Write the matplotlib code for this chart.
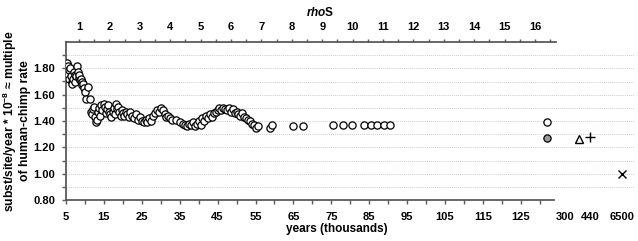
import numpy as np
import matplotlib
matplotlib.use("Agg")
import matplotlib.pyplot as plt
from matplotlib.ticker import FixedLocator
import matplotlib.transforms as mtransforms

plt.rcParams['font.family'] = ['Liberation Sans', 'DejaVu Sans']
plt.rcParams['mathtext.fontset'] = 'custom'
plt.rcParams['mathtext.rm'] = 'Liberation Sans:bold'
plt.rcParams['mathtext.it'] = 'Liberation Sans:bold:italic'
plt.rcParams['mathtext.bf'] = 'Liberation Sans:bold'

# ---- data (years in thousands, rate multiple) ----
years_a = [5.0, 5.2, 5.5, 5.7, 5.9, 6.1, 6.3, 6.5, 6.7, 6.9, 7.1, 7.3, 7.5, 7.7,
           7.9, 8.1, 8.3, 8.5, 8.7, 8.9, 9.1, 9.3, 9.5, 9.8, 10.1, 10.4, 10.7, 11.3]
rate_a = [1.76, 1.84, 1.82, 1.79, 1.72, 1.80, 1.74, 1.70, 1.68, 1.72, 1.77, 1.75, 1.70, 1.74,
          1.82, 1.77, 1.73, 1.75, 1.71, 1.72, 1.70, 1.67, 1.68, 1.65, 1.62, 1.57, 1.66, 1.57]

years_b = [11.6, 11.9, 12.2, 12.5, 12.7, 13.0, 13.2, 13.5, 13.8, 14.0, 14.3, 14.6, 14.9, 15.2,
           15.5, 15.8, 16.1, 16.4, 16.7, 17.0, 17.3, 17.6, 17.9, 18.2, 18.5, 18.8, 19.1, 19.4,
           19.7, 20.0, 20.3, 20.7]
rate_b = [1.47, 1.45, 1.49, 1.51, 1.43, 1.39, 1.41, 1.47, 1.50, 1.44, 1.52, 1.48, 1.53, 1.51,
          1.46, 1.49, 1.52, 1.47, 1.45, 1.43, 1.47, 1.50, 1.45, 1.53, 1.49, 1.51, 1.47, 1.44,
          1.48, 1.46, 1.44, 1.47]

years_c = [21.0, 21.5, 22.0, 22.5, 23.0, 23.5, 24.0, 24.5, 25.0, 25.5, 26.0, 26.5, 27.0, 27.5,
           28.0, 28.5, 29.0, 29.5, 30.0, 30.5, 31.0, 31.5, 32.0, 32.5, 33.0, 34.0, 35.0, 35.8,
           36.5, 37.0, 37.5, 38.0, 38.5, 39.0, 39.5, 40.0, 40.5, 41.0, 41.5, 42.0, 42.5]
rate_c = [1.45, 1.43, 1.47, 1.44, 1.42, 1.45, 1.41, 1.43, 1.40, 1.39, 1.41, 1.39, 1.42, 1.40,
          1.44, 1.46, 1.48, 1.47, 1.50, 1.48, 1.45, 1.43, 1.44, 1.42, 1.41, 1.41, 1.39, 1.38,
          1.37, 1.36, 1.38, 1.37, 1.39, 1.36, 1.38, 1.40, 1.37, 1.42, 1.40, 1.44, 1.42]

years_d = [43.0, 43.5, 44.0, 44.5, 45.0, 45.5, 46.0, 46.5, 47.0, 47.5, 48.0, 48.5, 49.0, 49.5,
           50.0, 50.5, 51.0, 51.5, 52.0, 52.5, 53.0, 53.5, 54.0, 54.5, 55.2]
rate_d = [1.45, 1.43, 1.46, 1.47, 1.48, 1.50, 1.48, 1.50, 1.49, 1.48, 1.50, 1.47, 1.49, 1.46,
          1.47, 1.45, 1.44, 1.46, 1.43, 1.42, 1.41, 1.40, 1.38, 1.37, 1.35]

years_e = [55.7, 58.8, 59.4, 64.9, 67.5, 75.5, 78.0, 80.5, 83.5, 85.5, 87.0, 89.0, 90.5, 132.0]
rate_e = [1.36, 1.35, 1.37, 1.36, 1.36, 1.37, 1.37, 1.37, 1.37, 1.37, 1.37, 1.37, 1.37, 1.39]

gray_year = [132.0]
gray_rate = [1.27]

tri_year = [380]
tri_rate = [1.265]
plus_year = [440]
plus_rate = [1.28]
cross_year = [6500]
cross_rate = [1.00]

break_labels = ["300", "440", "6500"]
break_values = [300, 440, 6500]

x_ticks = list(range(5, 126, 10))
rho_ticks = list(range(1, 17))

# ---- layout ----
W, H = 638, 241
fig = plt.figure(figsize=(W / 100, H / 100), dpi=100)
ax_l, ax_r, ax_b, ax_t = 66, 635, 200, 42
ax = fig.add_axes([ax_l / W, 1 - ax_b / H, (ax_r - ax_l) / W, (ax_b - ax_t) / H])

px_per_year = 3.79
x0 = 5.0
xmax = x0 + (ax_r - ax_l) / px_per_year
spine_end = x0 + (554 - ax_l) / px_per_year
ax.set_xlim(x0, xmax)
ax.set_ylim(0.8, 2.0)

# positions of broken-axis labels (in axis units)
break_pos = [x0 + (p - ax_l) / px_per_year for p in (565, 590, 622)]


def brk(v):
    return np.interp(v, break_values, break_pos)


# gridlines
for g in np.arange(0.9, 1.95, 0.1):
    ax.axhline(g, color='#b8b8b8', lw=0.6, ls=(0, (1, 1.5)), zorder=0)

ms = 5.2
ec = 'black'
all_years = years_a + years_b + years_c + years_d + years_e
all_rates = rate_a + rate_b + rate_c + rate_d + rate_e
ax.plot(all_years, all_rates, 'o', ms=ms, mfc='white', mec=ec, mew=0.9, zorder=3)
ax.plot(gray_year, gray_rate, 'o', ms=ms, mfc='#9a9a9a', mec=ec, mew=0.9, zorder=3)
ax.plot(brk(tri_year), tri_rate, '^', ms=6, mfc='white', mec=ec, mew=1.0, zorder=3)
ax.plot(brk(plus_year), plus_rate, '+', ms=7, mec=ec, mew=1.0, zorder=3)
ax.plot(brk(cross_year), cross_rate, 'x', ms=6, mec=ec, mew=1.0, zorder=3)

spine_col = '#5a5a5a'
for s in ['right', 'top']:
    ax.spines[s].set_visible(False)
ax.spines['left'].set_color(spine_col)
ax.spines['bottom'].set_color(spine_col)
ax.spines['left'].set_linewidth(1.3)
ax.spines['bottom'].set_linewidth(1.3)
ax.spines['bottom'].set_bounds(x0, spine_end)

ax.xaxis.set_major_locator(FixedLocator(x_ticks))
ax.xaxis.set_minor_locator(FixedLocator(list(range(10, 131, 10))))
ax.set_xticklabels([str(t) for t in x_ticks])
ax.yaxis.set_major_locator(FixedLocator(np.arange(0.8, 1.81, 0.2)))
ax.yaxis.set_minor_locator(FixedLocator(np.arange(0.9, 2.0, 0.2)))
ax.set_yticklabels([f"{v:.2f}" for v in np.arange(0.8, 1.81, 0.2)])
ax.tick_params(axis='both', which='both', direction='out', length=3, width=1.0,
               color=spine_col, labelsize=8)
ax.tick_params(axis='x', which='major', pad=6)
ax.tick_params(axis='y', which='major', pad=5)
for lab in ax.get_xticklabels() + ax.get_yticklabels():
    lab.set_fontweight('bold')

label_tr = ax.get_xaxis_transform() + mtransforms.ScaledTranslation(
    0, -9 / 72, fig.dpi_scale_trans)
for lab, pos in zip(break_labels, break_pos):
    ax.text(pos, 0.0, lab, transform=label_tr, ha='center', va='top',
            fontsize=8, fontweight='bold')

ax.set_xlabel('years (thousands)', fontsize=8.5, fontweight='bold')
ax.xaxis.set_label_coords((337 - ax_l) / (ax_r - ax_l), -(223 - ax_b) / (ax_b - ax_t))
ax.set_ylabel('subst/site/year * 10$^{-8}$ ≈ multiple\nof human-chimp rate',
              fontsize=8.7, fontweight='bold', linespacing=1.0)
ax.yaxis.set_label_coords(-(ax_l - 31) / (ax_r - ax_l), 0.5)

# ---- top rhoS axis ----
px_per_rho = 30.4
rho0 = 1 - (79 - ax_l) / px_per_rho
rho_max = rho0 + (ax_r - ax_l) / px_per_rho
rho_end = rho0 + (556 - ax_l) / px_per_rho
top = ax.twiny()
top.set_xlim(rho0, rho_max)
for s in ['right', 'bottom', 'left']:
    top.spines[s].set_visible(False)
top.spines['top'].set_color(spine_col)
top.spines['top'].set_linewidth(1.3)
top.spines['top'].set_bounds(rho0, rho_end)
top.xaxis.set_major_locator(FixedLocator(rho_ticks))
top.xaxis.set_minor_locator(FixedLocator(list(np.arange(1.5, 16.6, 1.0))))
top.set_xticklabels([str(t) for t in rho_ticks])
top.tick_params(axis='x', which='both', direction='out', length=2.5, width=1.0,
                color=spine_col, labelsize=8, pad=5)
for lab in top.get_xticklabels():
    lab.set_fontweight('bold')
top.set_xlabel(r'$\mathit{rho}$S', fontsize=8.5, fontweight='bold')
top.xaxis.set_label_coords((320 - ax_l) / (ax_r - ax_l), 1 + (ax_t - 16) / (ax_b - ax_t))

fig.savefig('out.png', dpi=100)
